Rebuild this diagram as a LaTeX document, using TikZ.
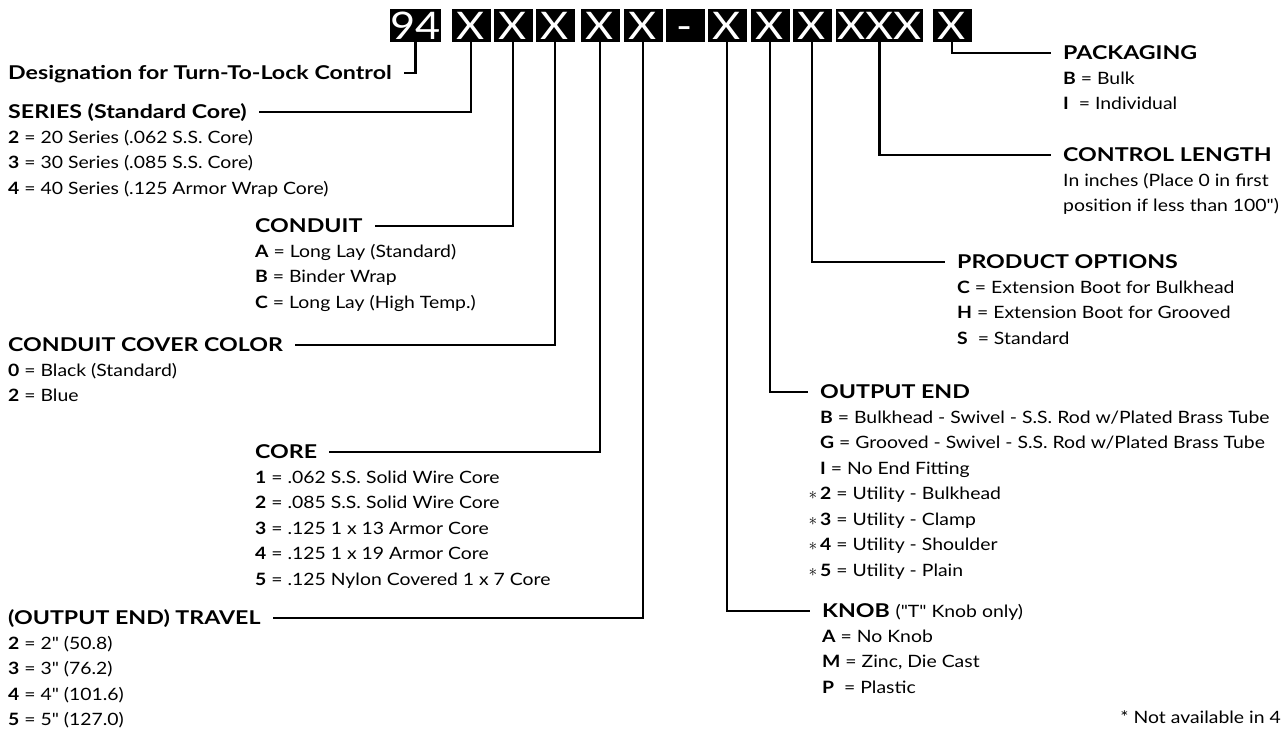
\documentclass[tikz,border=0pt]{standalone}
\usepackage{fontspec}
\setmainfont{Lato}[FakeStretch=1.14, Ligatures=TeXOff]
\newfontfamily\headfont{Lato}[FakeStretch=1.22, Ligatures=TeXOff]

\begin{document}
\begin{tikzpicture}[x=1pt, y=-1pt,
  digit/.style={fill=black, text=white, inner sep=0pt, text height=27pt, text depth=0pt, minimum width=39pt, minimum height=33pt, font=\fontsize{38}{38}\selectfont},
  head/.style={anchor=west, inner sep=0pt, text height=13pt, text depth=1pt, font=\headfont\fontsize{19}{19}\selectfont\bfseries},
  item/.style={anchor=west, inner sep=0pt, text height=12pt, text depth=1pt, font=\fontsize{17}{17}\selectfont},
  lead/.style={line width=2.8pt, shorten >=12pt}]
 \useasboundingbox (0,0) rectangle (1281,729);

 \node[digit, minimum width=45pt] (b94) at (415.5,25.5) {94};
 \foreach \n/\x in {bseries/471, bconduit/513, bcolor/555, bcore/600, btravel/643, bknob/727, boutput/770, boptions/812, bpack/952}
  \node[digit] (\n) at (\x,25.5) {X};
 \node[digit] (bdash) at (685,25.5) {-};
 \node[digit, minimum width=87pt] (blength) at (879.5,25.5) {XXX};

 \node[head] (desig) at (8,73) {Designation for Turn-To-Lock Control};

 \node[head] (series) at (8,112) {SERIES (Standard Core)};
 \foreach \t [count=\i] in {{\textbf{2} = 20 Series (.062 S.S. Core)}, {\textbf{3} = 30 Series (.085 S.S. Core)}, {\textbf{4} = 40 Series (.125 Armor Wrap Core)}}
  \node[item] (series-\i) at (8,112+25.5*\i) {\t};

 \node[head] (conduit) at (255,226) {CONDUIT};
 \foreach \t [count=\i] in {{\textbf{A} = Long Lay (Standard)}, {\textbf{B} = Binder Wrap}, {\textbf{C} = Long Lay (High Temp.)}}
  \node[item] (conduit-\i) at (255,226+25.5*\i) {\t};

 \node[head] (color) at (8,345) {CONDUIT COVER COLOR};
 \foreach \t [count=\i] in {{\textbf{0} = Black (Standard)}, {\textbf{2} = Blue}}
  \node[item] (color-\i) at (8,345+25.5*\i) {\t};

 \node[head] (core) at (255,452) {CORE};
 \foreach \t [count=\i] in {{\textbf{1} = .062 S.S. Solid Wire Core}, {\textbf{2} = .085 S.S. Solid Wire Core}, {\textbf{3} = .125 1 x 13 Armor Core}, {\textbf{4} = .125 1 x 19 Armor Core}, {\textbf{5} = .125 Nylon Covered 1 x 7 Core}}
  \node[item] (core-\i) at (255,452+25.5*\i) {\t};

 \node[head] (travel) at (8,618) {(OUTPUT END) TRAVEL};
 \foreach \t [count=\i] in {{\textbf{2} = 2" (50.8)}, {\textbf{3} = 3" (76.2)}, {\textbf{4} = 4" (101.6)}, {\textbf{5} = 5" (127.0)}}
  \node[item] (travel-\i) at (8,618+25.5*\i) {\t};

 \node[head] (pack) at (1063,53) {PACKAGING};
 \foreach \t [count=\i] in {{\textbf{B} = Bulk}, {\textbf{I}\hspace{5pt} = Individual}}
  \node[item] (pack-\i) at (1063,53+25.5*\i) {\t};

 \node[head] (length) at (1063,155) {CONTROL LENGTH};
 \foreach \t [count=\i] in {{In inches (Place 0 in first}, {position if less than 100")}}
  \node[item] (length-\i) at (1063,155+25.5*\i) {\t};

 \node[head] (options) at (957,262) {PRODUCT OPTIONS};
 \foreach \t [count=\i] in {{\textbf{C} = Extension Boot for Bulkhead}, {\textbf{H} = Extension Boot for Grooved}, {\textbf{S}\hspace{5pt} = Standard}}
  \node[item] (options-\i) at (957,262+25.5*\i) {\t};

 \node[head] (output) at (820,392) {OUTPUT END};
 \foreach \t [count=\i] in {{\textbf{B} = Bulkhead - Swivel - S.S. Rod w/Plated Brass Tube}, {\textbf{G} = Grooved - Swivel - S.S. Rod w/Plated Brass Tube}, {\textbf{I} = No End Fitting}, {\llap{$\ast$\,}\textbf{2} = Utility - Bulkhead}, {\llap{$\ast$\,}\textbf{3} = Utility - Clamp}, {\llap{$\ast$\,}\textbf{4} = Utility - Shoulder}, {\llap{$\ast$\,}\textbf{5} = Utility - Plain}}
  \node[item] (output-\i) at (820,392+25.5*\i) {\t};

 \node[head] (knob) at (822,611) {KNOB {\normalfont\fontsize{17}{17}\selectfont ("T" Knob only)}};
 \foreach \t [count=\i] in {{\textbf{A} = No Knob}, {\textbf{M} = Zinc, Die Cast}, {\textbf{P}\hspace{5pt} = Plastic}}
  \node[item] (knob-\i) at (822,611+25.5*\i) {\t};

 \node[item, anchor=east] (note) at (1281,718) {* Not available in 4};

 \draw[lead] (b94.south) |- (desig.east);
 \foreach \b/\h in {bseries/series, bconduit/conduit, bcolor/color, bcore/core, btravel/travel}
  \draw[lead] (\b.south) |- (\h.east);
 \foreach \b/\h in {bknob/knob, boutput/output, boptions/options, blength/length, bpack/pack}
  \draw[lead] (\b.south) |- (\h.west);
\end{tikzpicture}
\end{document}
